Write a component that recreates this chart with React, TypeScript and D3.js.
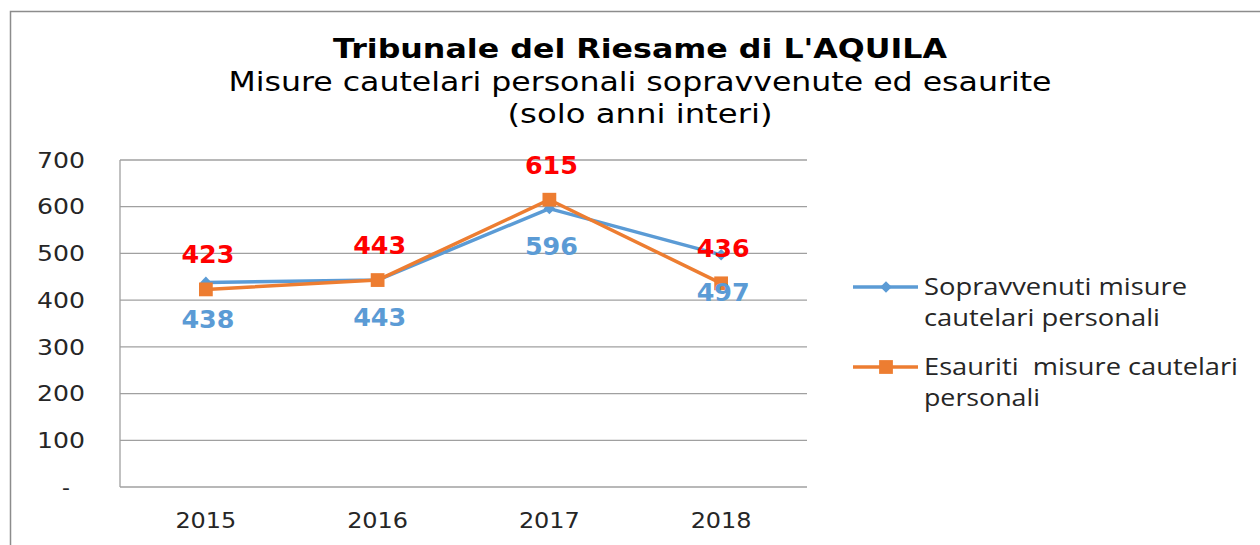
import React from 'react';
import * as d3 from 'd3';

// data
const years = ['2015', '2016', '2017', '2018'];
const sopravvenuti = [438, 443, 596, 497];
const esauriti = [423, 443, 615, 436];
const yTicks = [0, 100, 200, 300, 400, 500, 600, 700];

const titleLines = [
  'Tribunale del Riesame di L\'AQUILA',
  'Misure cautelari personali sopravvenute ed esaurite',
  '(solo anni interi)',
];
const legendSopravvenuti = ['Sopravvenuti misure', 'cautelari personali'];
const legendEsauriti = ['Esauriti  misure cautelari', 'personali'];
// widths the legend lines take in the reference
const legendSopWidths = [263, 236];
const legendEsaWidths = [314, 116];

const width = 1260;
const height = 545;
const margin = { top: 160, right: 453, bottom: 58, left: 120 };
const innerW = width - margin.left - margin.right;
const innerH = height - margin.top - margin.bottom;

const blue = '#5B9BD5';
const orange = '#ED7D31';
const red = '#FF0000';
const grid = '#A0A0A0';
const textColor = '#262626';
const axisFont = 'DejaVu Sans, Verdana, sans-serif';
const legendFont = 'Open Sans, Noto Sans, sans-serif';

const x = d3.scaleBand().domain(years).range([0, innerW]);
const y = d3.scaleLinear().domain([0, 700]).range([innerH, 0]);

const cx = (d: string) => (x(d) as number) + x.bandwidth() / 2;

const line = d3
  .line<number>()
  .x((_, i) => cx(years[i]))
  .y(d => y(d));

const diamond = d3.symbol().type(d3.symbolDiamond2).size(85)();
const square = d3.symbol().type(d3.symbolSquare).size(190)();

const App = () => {
  return (
    <svg
      width={width}
      height={height}
      style={{ position: 'absolute', left: 0, top: 0, background: '#fff' }}
    >
      <rect x={0} y={0} width={width} height={height} fill='#fff' />
      {/* chart frame */}
      <path d={`M10.5,${height} V11.5 H${width}`} fill='none' stroke='#8c8c8c' strokeWidth={1.5} />

      {/* titles */}
      <text
        x={640}
        y={58}
        textAnchor='middle'
        fontFamily={axisFont}
        fontWeight='bold'
        fontSize={27}
        fill='#000'
        textLength={614}
        lengthAdjust='spacingAndGlyphs'
      >
        {titleLines[0]}
      </text>
      <text
        x={640}
        y={91}
        textAnchor='middle'
        fontFamily={axisFont}
        fontSize={26}
        fill='#000'
        textLength={823}
        lengthAdjust='spacingAndGlyphs'
      >
        {titleLines[1]}
      </text>
      <text
        x={640}
        y={123}
        textAnchor='middle'
        fontFamily={axisFont}
        fontSize={26}
        fill='#000'
        textLength={265}
        lengthAdjust='spacingAndGlyphs'
      >
        {titleLines[2]}
      </text>

      <g transform={`translate(${margin.left}, ${margin.top})`}>
        {yTicks.map(t => (
          <g key={t}>
            <line x1={0} x2={innerW} y1={y(t)} y2={y(t)} stroke={grid} strokeWidth={1.3} />
            {t === 0 ? (
              <text
                x={-50}
                y={y(t)}
                dy='.35em'
                textAnchor='end'
                fontFamily={axisFont}
                fontSize={22}
                fill={textColor}
              >
                -
              </text>
            ) : (
              <text
                x={-35}
                y={y(t)}
                dy='.35em'
                textAnchor='end'
                fontFamily={axisFont}
                fontSize={22}
                fill={textColor}
                textLength={48}
                lengthAdjust='spacingAndGlyphs'
              >
                {t}
              </text>
            )}
          </g>
        ))}
        <line x1={0} x2={0} y1={0} y2={innerH} stroke={grid} strokeWidth={1.3} />

        {years.map(d => (
          <text
            key={d}
            x={cx(d)}
            y={innerH + 33}
            dy='.35em'
            textAnchor='middle'
            fontFamily={axisFont}
            fontSize={22}
            fill={textColor}
            textLength={61}
            lengthAdjust='spacingAndGlyphs'
          >
            {d}
          </text>
        ))}

        <path d={line(sopravvenuti) as string} fill='none' stroke={blue} strokeWidth={3.5} strokeLinejoin='round' />
        <path d={line(esauriti) as string} fill='none' stroke={orange} strokeWidth={3.5} strokeLinejoin='round' />

        {sopravvenuti.map((v, i) => (
          <path key={'b' + i} d={diamond as string} transform={`translate(${cx(years[i])}, ${y(v)})`} fill={blue} />
        ))}
        {esauriti.map((v, i) => (
          <path key={'o' + i} d={square as string} transform={`translate(${cx(years[i])}, ${y(v)})`} fill={orange} />
        ))}

        {sopravvenuti.map((v, i) => (
          <text
            key={'bl' + i}
            x={cx(years[i]) + 2}
            y={y(v) + 37}
            dy='.36em'
            textAnchor='middle'
            fontFamily={axisFont}
            fontWeight='bold'
            fontSize={25}
            fill={blue}
            textLength={53}
            lengthAdjust='spacingAndGlyphs'
          >
            {v}
          </text>
        ))}
        {esauriti.map((v, i) => (
          <text
            key={'ol' + i}
            x={cx(years[i]) + 2}
            y={y(v) - 35}
            dy='.36em'
            textAnchor='middle'
            fontFamily={axisFont}
            fontWeight='bold'
            fontSize={25}
            fill={red}
            textLength={53}
            lengthAdjust='spacingAndGlyphs'
          >
            {v}
          </text>
        ))}
      </g>

      {/* legend */}
      <g transform='translate(853, 287)'>
        <line x1={0} x2={65} y1={0} y2={0} stroke={blue} strokeWidth={3.5} />
        <path d={diamond as string} transform='translate(33, 0)' fill={blue} />
        {legendSopravvenuti.map((t, i) => (
          <text
            key={t}
            x={71}
            y={i * 31}
            dy='.35em'
            fontFamily={legendFont}
            fontSize={23}
            fill={textColor}
            textLength={legendSopWidths[i]}
            lengthAdjust='spacingAndGlyphs'
          >
            {t}
          </text>
        ))}
      </g>
      <g transform='translate(853, 367)'>
        <line x1={0} x2={65} y1={0} y2={0} stroke={orange} strokeWidth={3.5} />
        <path d={square as string} transform='translate(33, 0)' fill={orange} />
        {legendEsauriti.map((t, i) => (
          <text
            key={t}
            x={71}
            y={i * 31}
            dy='.35em'
            fontFamily={legendFont}
            fontSize={23}
            fill={textColor}
            textLength={legendEsaWidths[i]}
            lengthAdjust='spacingAndGlyphs'
            style={{ whiteSpace: 'pre' }}
          >
            {t}
          </text>
        ))}
      </g>
    </svg>
  );
};

export default App;
